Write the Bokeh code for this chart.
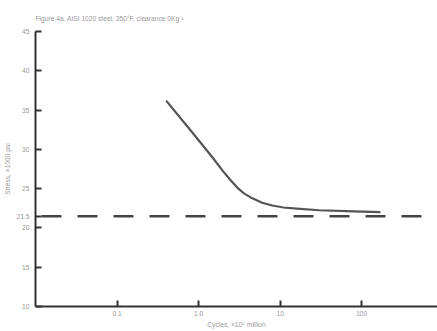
from bokeh.plotting import figure
from bokeh.models import FixedTicker, Range1d, Span
from bokeh.embed import file_html
from bokeh.resources import INLINE

cycles = [0.4, 0.8, 1.5, 2.0, 2.5, 3.0, 3.6, 4.5, 6, 8, 11, 16, 30, 80, 170]
stress = [36.2, 32.4, 28.9, 27.2, 26.0, 25.1, 24.4, 23.8, 23.2, 22.85, 22.6, 22.45, 22.25, 22.1, 22.0]
limit = 21.5
y_ticks = [10, 15, 20, 21.5, 25, 30, 35, 40, 45]
x_ticks = [0.1, 1.0, 10, 100]
x_labels = {0.1: "0.1", 1.0: "1.0", 10: "10", 100: "100"}

p = figure(width=437, height=331, x_axis_type="log",
           x_range=Range1d(0.01, 850), y_range=Range1d(10, 45),
           output_backend="svg", toolbar_location=None,
           min_border_left=35, min_border_right=0, min_border_top=31, min_border_bottom=25,
           title="Figure 4a. AISI 1020 steel, 350\u00b0F, clearance 0Kg\u207b\u00b9")
p.title.text_font = "Liberation Sans"
p.title.text_font_size = "5pt"
p.title.text_font_style = "normal"
p.title.text_color = "#9a9a9a"
p.title.offset = 0
p.title.standoff = 20

p.outline_line_color = None
p.grid.grid_line_color = None
p.background_fill_color = "white"
p.border_fill_color = "white"

p.line(cycles, stress, line_color="#555555", line_width=2.2, line_join="round")
p.add_layout(Span(location=limit, dimension="width", line_color="#444444",
                  line_width=2.5, line_dash="20 16", line_dash_offset=-6))

for ax in (p.xaxis[0], p.yaxis[0]):
    ax.axis_line_color = "#333333"
    ax.axis_line_width = 2
    ax.major_tick_line_color = "#333333"
    ax.major_tick_line_width = 2
    ax.major_tick_in = 6
    ax.major_tick_out = 0
    ax.minor_tick_line_color = None
    ax.major_label_text_font = "Liberation Sans"
    ax.major_label_text_font_size = "5pt"
    ax.major_label_text_color = "#9a9a9a"
    ax.axis_label_text_font = "Liberation Sans"
    ax.axis_label_text_font_size = "5pt"
    ax.axis_label_text_font_style = "normal"
    ax.axis_label_text_color = "#9a9a9a"

p.xaxis.ticker = FixedTicker(ticks=x_ticks)
p.xaxis.major_label_overrides = x_labels
p.xaxis.axis_label = "Cycles, \u00d710\u2076 million"
p.xaxis.major_label_standoff = 4
p.xaxis.axis_label_standoff = 2

p.yaxis.ticker = FixedTicker(ticks=y_ticks)
p.yaxis.major_label_overrides = {21.5: "21.5"}
p.yaxis.axis_label = "Stress, \u00d71000 psi"
p.yaxis.major_label_standoff = 6
p.yaxis.axis_label_standoff = 3

open("out.html", "w").write(file_html(p, INLINE))
